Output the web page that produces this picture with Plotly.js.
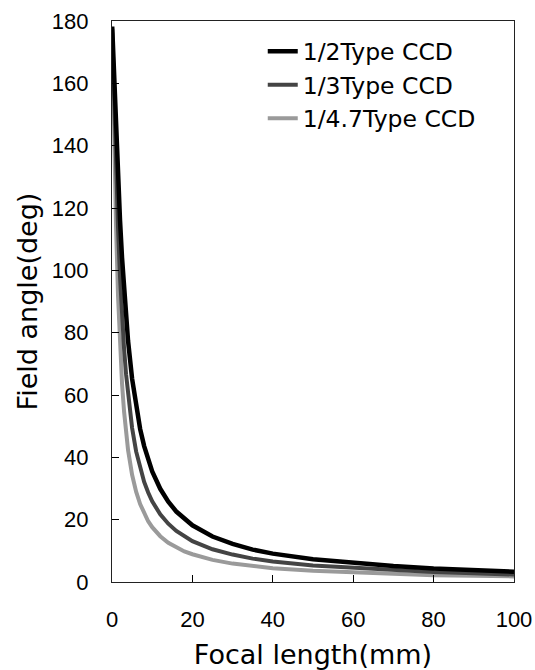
<!DOCTYPE html>
<html>
<head>
<meta charset="utf-8">
<script src="https://cdn.plot.ly/plotly-3.0.1.min.js"></script>
<style>html,body{margin:0;padding:0;background:#fff;}#chart{width:535px;height:670px;}</style>
</head>
<body>
<div id="chart"></div>
<script>
// Focal length (mm)
var focalLength = [0.05, 0.25, 0.5, 0.75, 1, 1.5, 2, 2.5, 3, 3.5, 4, 5, 6, 7, 8, 9, 10, 12, 14, 16, 18, 20, 25, 30, 35, 40, 50, 60, 70, 80, 90, 100];
// Field angle (deg)
var type12 = [178.2, 171.1, 162.2, 153.6, 145.3, 129.7, 116.0, 104.0, 93.7, 84.8, 77.3, 65.2, 56.1, 49.1, 43.6, 39.1, 35.5, 29.9, 25.8, 22.6, 20.2, 18.2, 14.6, 12.2, 10.4, 9.1, 7.3, 6.1, 5.1, 4.3, 3.8, 3.3];
var type13 = [177.5, 167.6, 155.5, 143.9, 133.0, 113.7, 97.9, 85.2, 74.9, 66.6, 59.8, 49.4, 41.9, 36.4, 32.1, 28.7, 25.9, 21.7, 18.7, 16.4, 14.6, 13.1, 10.5, 8.8, 7.5, 6.6, 5.3, 4.5, 3.8, 3.2, 2.8, 2.4];
var type147 = [176.3, 161.7, 144.2, 128.4, 114.3, 91.9, 75.6, 63.6, 54.7, 47.8, 42.3, 34.4, 29.0, 25.0, 21.9, 19.5, 17.6, 14.7, 12.6, 11.1, 9.8, 8.9, 7.1, 5.9, 5.1, 4.4, 3.6, 3.1, 2.6, 2.2, 2.0, 1.8];
var seriesNames = ['1/2Type CCD', '1/3Type CCD', '1/4.7Type CCD'];
var xTickVals = [0, 20, 40, 60, 80, 100];
var yTickVals = [0, 20, 40, 60, 80, 100, 120, 140, 160, 180];

var traces = [
  {x: focalLength, y: type147, name: seriesNames[2], mode: 'lines', legendgroup: 'c', legendrank: 3,
   line: {color: '#9a9a9a', width: 4}},
  {x: focalLength, y: type13, name: seriesNames[1], mode: 'lines', legendgroup: 'b', legendrank: 2,
   line: {color: '#444444', width: 4}},
  {x: focalLength, y: type12, name: seriesNames[0], mode: 'lines', legendgroup: 'a', legendrank: 1,
   line: {color: '#000000', width: 4.5}}
];

var layout = {
  width: 535, height: 670,
  margin: {l: 112, r: 21, t: 21, b: 88, pad: 0},
  paper_bgcolor: '#fff', plot_bgcolor: '#fff',
  showlegend: true,
  legend: {x: 0.375, y: 0.985, xanchor: 'left', yanchor: 'top', bgcolor: 'rgba(0,0,0,0)',
           font: {family: 'DejaVu Sans', size: 23.5, color: '#000'}, tracegroupgap: 6, traceorder: 'normal'},
  xaxis: {
    range: [0, 100], tickvals: xTickVals, ticktext: xTickVals.map(String),
    ticks: 'inside', ticklen: 7, tickcolor: '#000', tickwidth: 1,
    showline: true, linecolor: '#222', linewidth: 1.2, mirror: true,
    showgrid: false, zeroline: false, ticklabelstandoff: 17,
    tickfont: {family: 'Liberation Sans, Arial, sans-serif', size: 22, color: '#000'},
    title: {text: 'Focal length(mm)', font: {family: 'DejaVu Sans', size: 27, color: '#000'}, standoff: 16}
  },
  yaxis: {
    range: [0, 180], tickvals: yTickVals, ticktext: yTickVals.map(String),
    ticks: 'inside', ticklen: 7, tickcolor: '#000', tickwidth: 1,
    showline: true, linecolor: '#222', linewidth: 1.2, mirror: true,
    showgrid: false, zeroline: false, ticklabelstandoff: 18,
    tickfont: {family: 'Liberation Sans, Arial, sans-serif', size: 22, color: '#000'},
    title: {text: 'Field angle(deg)', font: {family: 'DejaVu Sans', size: 27, color: '#000'}, standoff: 6}
  }
};

Plotly.newPlot('chart', traces, layout, {displayModeBar: false, staticPlot: true});
</script>
</body>
</html>
